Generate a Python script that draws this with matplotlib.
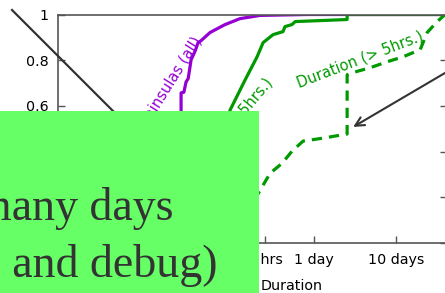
import matplotlib
matplotlib.use('Agg')
import matplotlib.pyplot as plt
from matplotlib.patches import Rectangle
from matplotlib.lines import Line2D

# durations in hours, cumulative fraction
peninsula_x = [0.02, 0.08, 0.2, 0.4, 0.55, 0.573, 0.573, 0.62, 0.659, 0.70, 0.759, 0.85,
               0.923, 1.0, 1.29, 1.97, 3.0, 5.27, 20, 1000]
peninsula_y = [0.0, 0.08, 0.2, 0.4, 0.52, 0.578, 0.657, 0.66, 0.705, 0.72, 0.802, 0.84,
               0.877, 0.885, 0.921, 0.956, 0.982, 0.996, 1.0, 1.0]

short_x = [0.9, 1.2, 1.6, 2.27, 3.46, 4.84, 5.73, 7.59, 10.0, 10.6, 12.9, 14.1, 60.6, 60.6, 1000]
short_y = [0.0, 0.15, 0.35, 0.582, 0.714, 0.815, 0.877, 0.912, 0.925, 0.947, 0.956, 0.969,
           0.978, 1.0, 1.0]

long_x = [2.0, 3.0, 4.2, 5.27, 6.97, 9.77, 12.9, 17.6, 30.9, 60.6, 60.6, 69.7, 115.6, 186,
          292, 471, 573, 759, 950]
long_y = [0.0, 0.08, 0.17, 0.231, 0.305, 0.349, 0.402, 0.446, 0.459, 0.477, 0.736, 0.745,
          0.767, 0.793, 0.815, 0.846, 0.921, 0.969, 1.0]

# labels hidden behind the slide box are left empty
x_ticks = [10 / 60, 1, 6, 24, 240]
x_tick_labels = ['', '', '6 hrs', '1 day', '10 days']
y_ticks = [0, 0.2, 0.4, 0.6, 0.8, 1]
y_tick_labels = ['', '', '', '0.6', '0.8', '1']

PURPLE = '#9400d3'
GREEN = '#009900'
W, H = 445, 293

fig = plt.figure(figsize=(W / 100, H / 100), dpi=100)
ax = fig.add_axes([58 / W, 50 / H, 389 / W, 228.5 / H])

ax.plot(peninsula_x, peninsula_y, color=PURPLE, lw=2.3)
ax.plot(short_x, short_y, color=GREEN, lw=2.3)
ax.plot(long_x, long_y, color=GREEN, lw=2.3, linestyle=(0, (3.2, 2.2)))

ax.set_xscale('log')
ax.set_xlim(0.0181, 1000)
ax.set_ylim(0, 1)
ax.set_xticks(x_ticks)
ax.set_xticklabels(x_tick_labels)
ax.minorticks_off()
ax.set_yticks(y_ticks)
ax.set_yticklabels(y_tick_labels)
ax.tick_params(direction='in', length=5, width=1, color='#555555', labelsize=10.3,
               pad=7, right=True, top=False)
for sp in ax.spines.values():
    sp.set_color('#555555')
    sp.set_linewidth(1.2)

# curve labels
ax.text(0.923, 0.899, 'Peninsulas (all)', color=PURPLE, fontsize=10.5, rotation=58,
        rotation_mode='anchor', ha='right', va='center')
ax.text(6.97, 0.714, 'Duration (< 5hrs.)', color=GREEN, fontsize=10.5, rotation=50,
        rotation_mode='anchor', ha='right', va='center')
ax.text(87.4, 0.802, 'Duration (> 5hrs.)', color=GREEN, fontsize=10.5, rotation=21,
        rotation_mode='anchor', ha='center', va='center')

fig.text(261 / W, 3.5 / H, 'Duration', fontsize=10.3, ha='left', va='baseline')

# slide overlays
ax.annotate('', xy=(71.8, 0.508), xycoords='data', xytext=(462, H - 63),
            textcoords='figure pixels',
            arrowprops=dict(arrowstyle='->', color='#333333', lw=1.5,
                            mutation_scale=16, shrinkA=0, shrinkB=0))
fig.add_artist(Line2D([12 / W, 160 / W], [1 - 10 / H, 1 - 158 / H],
                      transform=fig.transFigure, color='#333333', lw=1.6, zorder=5))
fig.add_artist(Rectangle((0, 0), 259 / W, 182 / H, transform=fig.transFigure,
                         facecolor='#66ff66', edgecolor='none', zorder=10))
fig.text(173 / W, 73 / H, 'Takes many days', fontsize=33, family='Liberation Serif',
         color='#333333', ha='right', va='baseline', zorder=11)
fig.text(217 / W, 16 / H, '(to write and debug)', fontsize=33, family='Liberation Serif',
         color='#333333', ha='right', va='baseline', zorder=11)

fig.savefig('out.png', dpi=100)
